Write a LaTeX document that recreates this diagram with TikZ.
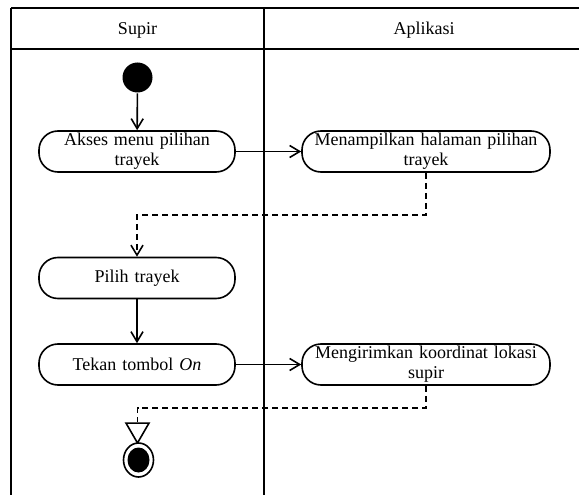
\documentclass[tikz,border=0pt]{standalone}
\usepackage{fontspec}
\setmainfont{Liberation Serif}
\usetikzlibrary{arrows.meta,shapes.geometric}
\begin{document}
\begin{tikzpicture}[x=1pt,y=-1pt,
  line width=1.6pt,
  every node/.style={font=\fontsize{18}{20}\selectfont},
  act/.style={draw, rounded corners=19pt, minimum height=41pt, inner sep=0pt,
    align=center, text width=#1, minimum width=#1},
  flow/.style={-{Straight Barb[length=10pt,width=12pt]}},
  objflow/.style={flow, dash pattern=on 6pt off 4pt},
  lane/.style={line width=1.8pt},
  startnode/.style={circle, fill, minimum size=30pt, inner sep=0pt},
  endring/.style={ellipse, draw, fill=white, minimum width=30pt, minimum height=34pt, inner sep=0pt},
  endcore/.style={ellipse, fill, minimum width=22pt, minimum height=25pt, inner sep=0pt},
  sync/.style={regular polygon, regular polygon sides=3, shape border rotate=180,
    draw, fill=white, minimum size=26.6pt, inner sep=0pt}
]
\useasboundingbox (0,0) rectangle (579,495);

% swimlane frame
\draw[lane] (11,8) -- (579,8);
\draw[lane] (11,49) -- (579,49);
\draw[lane] (11,8) -- (11,495);
\draw[lane] (264,8) -- (264,495);
\node (h1) at (137.5,30) {Supir};
\node (h2) at (424,30) {Aplikasi};

% activities
\node[startnode] (start) at (137.5,77.5) {};
\node[act=196pt] (a1) at (137,151.5) {Akses menu pilihan\\trayek};
\node[act=248pt] (a2) at (426,151.5) {Menampilkan halaman pilihan\\trayek};
\node[act=196pt] (a3) at (137,278) {Pilih trayek};
\node[act=196pt] (a4) at (137,364.5) {Tekan tombol \textit{On}};
\node[act=248pt] (a5) at (426,364.5) {Mengirimkan koordinat lokasi\\supir};
\node[sync] (tri) at (137.5,429.7) {};
\node[endring] (end) at (138.5,460) {};
\node[endcore] (endc) at (138.5,460) {};

\coordinate (j1) at (426,215);
\coordinate (j2) at (426,408);

% transitions
\draw[flow] (start) -- (a1);
\draw[flow] (a1) -- (a2);
\draw[objflow] (a2.south) -- (j1) -| (a3.north);
\draw[flow] (a3) -- (a4);
\draw[flow] (a4) -- (a5);
\draw[dash pattern=on 6pt off 4pt] (a5.south) -- (j2) -| (tri.north);
\end{tikzpicture}
\end{document}
